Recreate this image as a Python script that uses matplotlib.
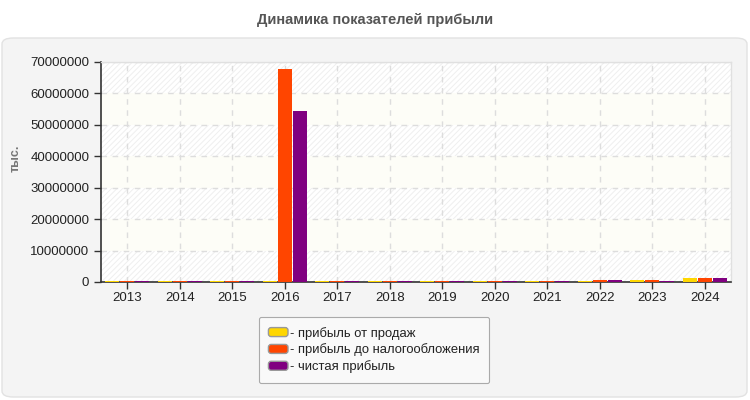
import matplotlib
matplotlib.use("Agg")
import matplotlib.pyplot as plt
import numpy as np
from matplotlib.patches import FancyBboxPatch, Patch
from matplotlib.legend_handler import HandlerPatch

plt.rcParams['font.family'] = ['Liberation Sans', 'DejaVu Sans']
plt.rcParams['hatch.linewidth'] = 0.7

years = ['2013', '2014', '2015', '2016', '2017', '2018', '2019', '2020', '2021', '2022', '2023', '2024']
sales = [250000, 250000, 250000, 250000, 250000, 250000, 250000, 250000, 250000, 400000, 650000, 1300000]
pretax = [250000, 250000, 250000, 67800000, 250000, 250000, 250000, 250000, 250000, 700000, 650000, 1350000]
net = [250000, 250000, 250000, 54300000, 250000, 250000, 250000, 250000, 250000, 650000, 300000, 1300000]
series_labels = ['- прибыль от продаж', '- прибыль до налогообложения', '- чистая прибыль']
colors = ['#FFD700', '#FF4500', '#800080']
yticks = [0, 10000000, 20000000, 30000000, 40000000, 50000000, 60000000, 70000000]

fig = plt.figure(figsize=(7.5, 4), dpi=100)
fig.patch.set_facecolor('white')

# panel background
panel = FancyBboxPatch((2/750, 3/400), 745/750, 359/400,
                       boxstyle="round,pad=0,rounding_size=0.015",
                       transform=fig.transFigure, facecolor='#f4f4f4',
                       edgecolor='#e2e2e2', linewidth=1, zorder=-5)
fig.add_artist(panel)

fig.text(0.5, 1 - 20/400, 'Динамика показателей прибыли', ha='center', va='center',
         fontsize=10.5, fontweight='bold', color='#555555')

ax = fig.add_axes([101/750, 1 - 282/400, 630/750, 220/400])
ax.set_zorder(1)
ax.set_facecolor('white')

# alternating bands
for i in range(len(yticks) - 1):
    lo, hi = yticks[i], yticks[i + 1]
    if i % 2 == 0:
        ax.axhspan(lo, hi, facecolor='white', edgecolor='#efefef', hatch='//////', linewidth=0, zorder=0)
    else:
        ax.axhspan(lo, hi, facecolor='#fdfdf7', edgecolor='none', linewidth=0, zorder=0)

x = np.arange(len(years))
w = 0.272
off = 0.286
for k, (vals, c) in enumerate(zip([sales, pretax, net], colors)):
    ax.bar(x + (k - 1) * off, vals, width=w, color=c, zorder=3, linewidth=0)

ax.set_xlim(-0.5, len(years) - 0.5)
ax.set_ylim(0, 70000000)
ax.set_yticks(yticks)
ax.set_yticklabels([str(v) for v in yticks])
ax.set_xticks(x)
ax.set_xticklabels(years)
ax.tick_params(axis='both', labelsize=9.5, colors='#333333', labelcolor='#222222', length=5, width=1)
ax.tick_params(axis='x', length=5, pad=2)

ax.grid(True, color='#dddddd', linestyle=(0, (4, 4)), linewidth=1, zorder=1)
ax.set_axisbelow(True)

for s in ['left', 'bottom']:
    ax.spines[s].set_color('#333333')
    ax.spines[s].set_linewidth(1.2)
for s in ['top', 'right']:
    ax.spines[s].set_color('#e0e0e0')
    ax.spines[s].set_linewidth(1)

ax.set_ylabel('тыс.', fontsize=9, fontweight='bold', color='#777777')
ax.yaxis.set_label_coords((22 - 101) / 630, (282 - 158) / 220)


class RoundHandler(HandlerPatch):
    def create_artists(self, legend, orig_handle, xdescent, ydescent, width, height, fontsize, trans):
        p = FancyBboxPatch((-xdescent, -ydescent + height * 0.05), width, height * 0.9,
                           boxstyle="round,pad=0,rounding_size=2",
                           facecolor=orig_handle.get_facecolor(), edgecolor='#999999',
                           linewidth=1, transform=trans)
        return [p]


handles = [Patch(facecolor=c, edgecolor='#999999') for c in colors]
leg = fig.legend(handles, series_labels, loc='center', bbox_to_anchor=(374/750, 1 - 350/400),
                 fontsize=9.4, frameon=True, handlelength=1.5, handleheight=0.8, handletextpad=0.15,
                 labelspacing=0.3, borderpad=0.75, fancybox=True,
                 handler_map={Patch: RoundHandler()})
leg.get_frame().set_facecolor('#f9f9f9')
leg.get_frame().set_edgecolor('#aaaaaa')
leg.get_frame().set_linewidth(0.8)
leg.get_frame().set_alpha(1)
for t in leg.get_texts():
    t.set_color('#222222')

fig.savefig('out.png', dpi=100)
